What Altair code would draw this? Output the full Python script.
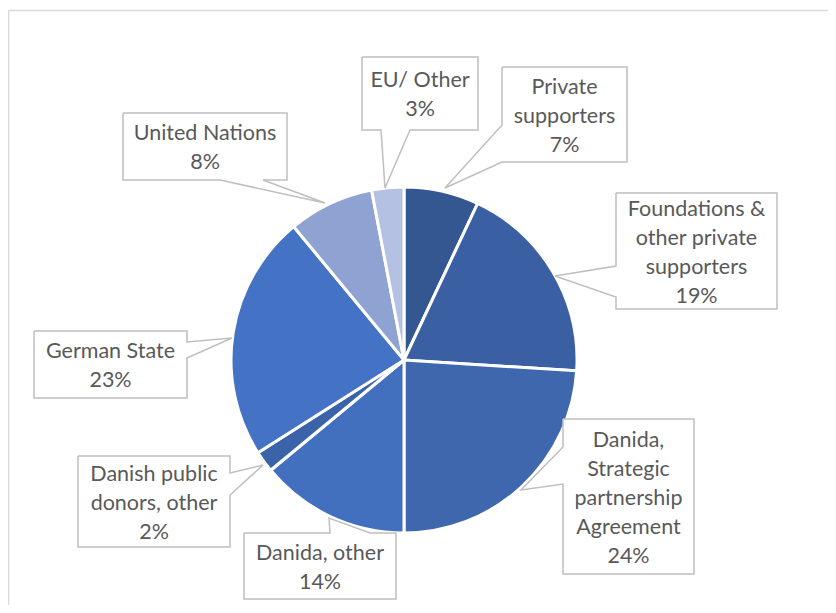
import altair as alt
import pandas as pd
from collections import Counter

# ---- data ----
categories = [
    "Private supporters",
    "Foundations & other private supporters",
    "Danida, Strategic partnership Agreement",
    "Danida, other",
    "Danish public donors, other",
    "German State",
    "United Nations",
    "EU/ Other",
]
shares = [7, 19, 24, 14, 2, 23, 8, 3]
label_lines = [
    ["Private", "supporters"],
    ["Foundations &", "other private", "supporters"],
    ["Danida,", "Strategic", "partnership", "Agreement"],
    ["Danida, other"],
    ["Danish public", "donors, other"],
    ["German State"],
    ["United Nations"],
    ["EU/ Other"],
]
colors = ["#345792", "#3a5fa2", "#3e67ae", "#4270be", "#3b63aa", "#4472c4", "#8fa3d3", "#b5c1e2"]

# ---- layout (image pixel coordinates of callout boxes / pointers) ----
callout_paths = [
    [(502, 67), (627, 67), (627, 162), (502, 162), (445, 188), (502, 125), (502, 67)],
    [(616, 193), (777, 193), (777, 309), (616, 309), (616, 297), (555, 276), (616, 266), (616, 193)],
    [(563, 419), (694, 419), (694, 574), (563, 574), (563, 484), (521, 490), (563, 447), (563, 419)],
    [(244, 533), (330, 533), (329, 518), (370, 533), (396, 533), (396, 599), (244, 599), (244, 533)],
    [(78, 456), (230, 456), (230, 473), (263, 465), (230, 495), (230, 547), (78, 547), (78, 456)],
    [(34, 331), (187, 331), (187, 342), (232, 338), (187, 358), (187, 398), (34, 398), (34, 331)],
    [(123, 113), (287, 113), (287, 180), (263, 180), (325, 203), (220, 180), (123, 180), (123, 113)],
    [(362, 57), (478, 57), (478, 130), (410, 130), (385, 188), (381, 130), (362, 130), (362, 57)],
]
LINE_H = 29
W, H = 820, 597
CX, CY, R = 404, 360, 173

pie_df = pd.DataFrame({"category": categories, "share": shares, "idx": list(range(len(categories)))})

box_rows, path_rows, text_rows = [], [], []
for i, (path, lines, v) in enumerate(zip(callout_paths, label_lines, shares)):
    xs_ = [p[0] for p in path]
    ys_ = [p[1] for p in path]
    cx_vals = [x for x, c in Counter(xs_).items() if c >= 2]
    cy_vals = [y for y, c in Counter(ys_).items() if c >= 2]
    bx0, bx1 = min(cx_vals), max(cx_vals)
    by0, by1 = min(cy_vals), max(cy_vals)
    box_rows.append({"id": i, "x0": bx0, "x1": bx1, "y0": by0, "y1": by1})
    for j, (px, py) in enumerate(path):
        path_rows.append({"id": i, "k": j, "x": px, "y": py})
    all_lines = lines + [f"{v}%"]
    n = len(all_lines)
    mid = (by0 + by1) / 2 + 2
    for j, t in enumerate(all_lines):
        text_rows.append({"id": i, "t": t, "x": (bx0 + bx1) / 2, "y": mid + (j - (n - 1) / 2) * LINE_H})

box_df = pd.DataFrame(box_rows)
path_df = pd.DataFrame(path_rows)
text_df = pd.DataFrame(text_rows)

xs = alt.Scale(domain=[8, 8 + W], nice=False, zero=False)
ys = alt.Scale(domain=[8, 8 + H], nice=False, zero=False, reverse=True)

frame = alt.Chart(pd.DataFrame({"a": [0]})).mark_rule(color="#d9d9d9", strokeWidth=1.5)
frame_top = frame.encode(x=alt.value(0), x2=alt.value(W), y=alt.value(2.5))
frame_left = frame.encode(x=alt.value(0.5), y=alt.value(2), y2=alt.value(H))

pie = alt.Chart(pie_df).mark_arc(outerRadius=R, stroke="white", strokeWidth=3).encode(
    theta=alt.Theta("share:Q", stack=True),
    order=alt.Order("idx:Q"),
    color=alt.Color("category:N", scale=alt.Scale(domain=categories, range=colors), legend=None),
    x=alt.value(CX - 8),
    y=alt.value(CY - 8),
)

boxes = alt.Chart(box_df).mark_rect(fill="white").encode(
    x=alt.X("x0:Q", scale=xs, axis=None),
    x2="x1:Q",
    y=alt.Y("y0:Q", scale=ys, axis=None),
    y2="y1:Q",
)

outlines = alt.Chart(path_df).mark_line(color="#bfbfbf", strokeWidth=1.5, strokeJoin="miter").encode(
    x=alt.X("x:Q", scale=xs, axis=None),
    y=alt.Y("y:Q", scale=ys, axis=None),
    detail="id:N",
    order="k:Q",
)

texts = alt.Chart(text_df).mark_text(
    font="Lato", fontSize=21.5, color="#595959", align="center", baseline="middle"
).encode(
    x=alt.X("x:Q", scale=xs, axis=None),
    y=alt.Y("y:Q", scale=ys, axis=None),
    text="t:N",
)

chart = alt.layer(frame_top, frame_left, pie, boxes, outlines, texts).properties(
    width=W, height=H, padding=0, autosize=alt.AutoSizeParams(type="none")
).configure_view(stroke=None)

chart.save("out.html", embed_options={"renderer": "svg", "actions": False})
